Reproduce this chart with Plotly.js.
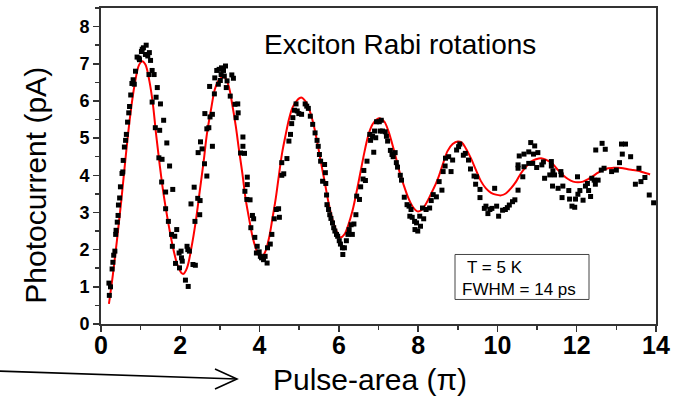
<!DOCTYPE html>
<html>
<head>
<meta charset="utf-8">
<script src="https://cdn.plot.ly/plotly-3.0.1.min.js"></script>
<style>
  html, body { margin: 0; padding: 0; background: #fff; }
  #chart { width: 677px; height: 400px; }
</style>
</head>
<body>
<div id="chart"></div>
<script>
// Measured photocurrent versus pulse area (units of pi)
const pulseArea = [
  0.20,0.21,0.24,0.28,0.30,0.32,0.35,0.37,0.38,0.41,0.43,0.44,0.47,0.49,0.53,0.55,0.56,0.59,0.62,0.64,
  0.67,0.70,0.72,0.75,0.78,0.81,0.84,0.87,0.91,0.96,0.97,1.02,1.04,1.07,1.14,1.12,1.18,1.22,1.25,1.21,
  1.29,1.34,1.42,1.39,1.29,1.50,1.58,1.37,1.48,1.66,1.46,1.54,1.73,1.53,1.63,1.81,1.63,1.70,1.78,1.86,
  1.91,1.80,1.88,1.97,2.02,2.03,2.05,1.98,2.13,2.20,2.17,2.19,2.23,2.32,2.38,2.27,2.35,2.37,2.44,2.49,
  2.50,2.45,2.51,2.55,2.61,2.67,2.62,2.67,2.72,2.75,2.74,
  2.81,2.81,2.86,2.87,2.92,2.98,3.03,3.04,3.09,3.14,3.11,2.96,3.01,3.18,3.16,3.26,3.30,3.34,3.38,3.45,
  3.46,3.41,3.58,3.58,3.52,3.62,3.69,3.69,3.63,3.68,3.76,3.82,3.85,3.78,3.88,3.94,3.92,3.99,4.02,4.05,
  4.10,4.19,4.14,4.20,4.27,4.31,4.37,4.42,4.48,4.50,4.56,4.61,4.56,4.69,4.74,4.78,4.81,4.84,4.88,4.92,
  4.95,4.99,5.06,5.15,5.19,5.23,5.28,5.34,5.40,5.45,5.48,5.51,5.54,5.59,
  5.64,5.66,5.67,5.69,5.70,5.74,5.77,5.80,5.84,5.87,5.90,5.94,5.97,6.01,6.04,6.09,6.10,6.14,6.19,6.23,
  6.26,6.34,6.31,6.38,6.43,6.45,6.52,6.55,6.61,6.67,6.63,6.71,6.88,6.80,6.78,6.85,6.90,6.93,6.95,7.02,
  7.07,7.04,7.10,7.17,7.20,7.23,7.30,7.34,7.37,7.42,7.45,7.48,7.55,7.58,7.65,7.72,7.77,7.82,7.79,7.85,
  7.91,7.96,7.92,7.99,8.06,8.04,8.11,8.14,8.20,8.29,8.33,8.38,
  8.46,8.53,8.60,8.63,8.68,8.69,8.77,8.83,8.87,8.97,9.02,9.05,9.14,9.19,9.27,9.32,9.41,9.47,9.45,9.56,
  9.56,9.67,9.71,9.76,9.81,9.86,9.93,9.98,10.03,10.13,10.20,10.25,10.30,10.38,10.44,10.52,10.64,10.52,10.52,10.55,
  10.67,10.79,10.84,10.94,10.91,11.02,10.67,10.79,10.89,10.99,11.12,11.16,11.19,
  11.36,11.36,11.40,11.32,11.44,11.60,11.61,11.39,11.53,11.65,11.63,11.80,11.82,11.88,11.95,11.97,12.02,12.03,12.08,12.16,
  12.22,12.27,12.30,12.35,12.38,12.44,12.47,12.54,12.48,12.64,12.72,12.62,12.69,12.88,13.00,13.08,13.13,13.23,13.15,13.36,
  13.48,13.57,13.62,13.72,13.83,13.94
];
const photocurrent = [
  1.10,0.77,1.00,1.48,1.66,1.85,1.96,2.41,2.52,2.74,2.92,3.20,3.39,3.69,4.05,4.09,4.40,4.76,4.94,5.10,
  5.43,5.68,5.85,6.16,6.47,6.57,6.45,6.80,7.18,7.15,7.11,7.33,7.39,7.43,7.50,7.25,7.21,7.30,7.09,6.71,
  6.82,6.71,6.36,6.10,5.97,5.92,5.48,5.28,5.21,4.87,4.47,4.43,4.25,3.82,3.55,3.62,3.10,2.76,2.41,2.36,
  2.54,2.09,1.63,1.91,1.96,1.78,1.69,1.51,1.18,1.01,2.09,2.00,1.96,1.60,1.58,3.23,3.68,2.76,3.38,2.94,
  3.32,4.61,4.90,4.71,4.31,3.98,5.66,5.25,5.28,5.57,6.39,
  5.64,4.78,6.19,6.62,6.82,6.85,6.71,6.89,6.82,6.94,6.67,6.45,6.55,6.54,6.36,6.13,6.70,6.61,5.91,5.92,
  5.68,5.55,5.03,4.78,4.60,4.59,3.95,3.75,3.57,3.35,3.34,2.92,2.83,2.59,2.33,2.09,1.91,1.94,1.82,1.78,
  1.73,1.64,1.82,2.05,2.15,2.41,2.83,3.08,3.10,2.87,4.00,4.04,4.34,4.45,4.92,5.10,5.39,5.55,5.75,5.92,
  5.73,5.66,5.64,5.92,5.86,5.80,5.59,5.37,5.14,4.94,4.78,4.56,4.38,3.84,
  4.29,4.07,3.78,3.47,3.21,3.08,2.94,2.84,2.72,2.59,2.50,2.41,2.36,2.24,2.15,2.05,1.87,2.05,2.24,2.41,
  2.54,2.41,2.67,2.69,2.94,3.44,3.35,3.69,3.90,3.86,4.13,4.38,4.62,4.94,5.10,5.05,5.19,5.01,5.44,5.44,
  5.48,5.19,5.19,5.17,5.05,4.92,4.67,4.56,4.50,4.61,4.34,4.22,4.00,3.87,3.41,3.21,3.17,3.08,2.90,2.87,
  2.76,2.72,2.54,2.50,2.63,2.90,3.12,2.83,3.08,3.12,3.32,3.48,
  3.42,3.83,3.60,4.10,4.25,4.46,4.50,4.10,4.41,4.68,4.77,4.84,4.54,4.59,4.41,4.17,3.98,3.96,3.76,3.62,
  3.40,3.11,3.17,2.97,3.08,3.11,3.65,3.17,2.90,3.06,3.08,3.13,3.20,3.29,3.34,3.60,3.96,4.19,4.28,4.52,
  4.57,4.63,4.88,4.79,4.57,4.61,4.23,4.32,4.32,4.21,4.28,4.36,3.92,
  4.37,4.25,4.12,4.01,4.01,4.10,4.01,3.71,3.65,3.71,3.40,3.59,3.36,3.17,3.14,3.36,3.96,3.49,3.59,3.33,
  3.71,3.78,3.59,3.43,3.92,3.87,3.76,3.87,4.68,4.86,4.70,4.14,4.19,4.10,4.14,4.34,4.84,4.84,4.57,4.50,
  3.76,4.19,3.83,3.94,3.47,3.26
];

// Damped Rabi fit, sampled along the drawn curve
const fitPulseArea = [
  0.20,0.30,0.40,0.51,0.62,0.74,0.85,0.96,1.04,1.12,1.22,1.31,1.39,1.48,1.58,1.69,1.80,1.92,2.03,2.08,
  2.17,2.28,2.39,2.49,2.59,2.67,2.79,2.87,2.96,3.06,3.14,3.23,3.31,3.40,3.48,3.57,3.65,3.74,3.82,3.90,
  3.98,4.07,4.15,4.24,4.32,4.41,4.49,4.57,4.66,4.74,4.83,4.94,5.05,5.15,5.25,5.35,5.45,5.55,5.64,5.74,
  5.84,5.94,6.04,6.14,6.24,6.34,6.45,6.55,6.65,6.75,6.85,6.95,7.05,7.15,7.25,7.35,7.45,7.55,7.66,7.76,
  7.86,7.98,8.08,8.18,8.28,8.38,8.45,8.53,8.63,8.74,8.87,9.00,9.10,9.20,9.33,9.46,9.58,9.71,9.84,9.96,
  10.09,10.21,10.34,10.47,10.59,10.72,10.85,10.97,11.10,11.22,11.40,11.53,11.65,11.78,11.91,12.03,12.16,12.28,12.41,12.54,
  12.66,12.79,12.92,13.04,13.17,13.29,13.42,13.55,13.67,13.80,13.85
];
const fitCurrent = [
  0.54,1.33,2.23,3.30,4.47,5.64,6.45,6.97,7.07,6.98,6.54,5.91,5.10,4.29,3.48,2.76,2.14,1.62,1.37,1.35,
  1.51,2.05,2.76,3.57,4.38,5.10,5.86,6.31,6.54,6.64,6.61,6.36,5.91,5.32,4.69,4.02,3.35,2.81,2.36,2.05,
  1.85,1.82,1.96,2.32,2.81,3.39,4.02,4.61,5.10,5.50,5.82,6.01,6.09,6.00,5.78,5.42,4.92,4.34,3.84,3.26,
  2.81,2.50,2.33,2.41,2.67,3.03,3.57,4.11,4.65,5.10,5.37,5.50,5.53,5.44,5.19,4.83,4.43,4.02,3.66,3.37,
  3.16,3.03,3.06,3.20,3.40,3.62,3.78,4.00,4.32,4.65,4.84,4.91,4.88,4.73,4.46,4.14,3.85,3.65,3.53,3.48,
  3.46,3.51,3.65,3.83,4.05,4.23,4.37,4.43,4.46,4.42,4.30,4.14,4.01,3.90,3.83,3.81,3.83,3.89,3.98,4.07,
  4.14,4.19,4.20,4.20,4.19,4.16,4.14,4.12,4.08,4.04,4.02
];

const FONT = 'Arial, "Liberation Sans", sans-serif';
const AXIS_COLOR = '#333333';

const traces = [
  {
    x: fitPulseArea, y: fitCurrent, type: 'scatter', mode: 'lines',
    line: { color: '#ff0000', width: 2, shape: 'spline', smoothing: 1 },
    hoverinfo: 'skip', showlegend: false
  },
  {
    x: pulseArea, y: photocurrent, type: 'scatter', mode: 'markers',
    marker: { symbol: 'square', size: 5, color: '#000000' },
    showlegend: false
  }
];

const layout = {
  width: 677, height: 400,
  margin: { l: 101, r: 21, t: 8, b: 76 },
  paper_bgcolor: '#ffffff', plot_bgcolor: '#ffffff',
  font: { family: FONT, color: '#000000' },
  showlegend: false,
  xaxis: {
    range: [0, 14], tick0: 0, dtick: 2,
    ticks: 'outside', ticklen: 6, tickwidth: 1.5, tickcolor: AXIS_COLOR,
    ticklabelstandoff: -8,
    showline: true, linecolor: AXIS_COLOR, linewidth: 2, mirror: true,
    showgrid: false, zeroline: false,
    tickfont: { family: FONT, size: 25, weight: 'bold', color: '#000000' },
    minor: { dtick: 1, ticks: 'outside', ticklen: 4, tickwidth: 1.5, tickcolor: AXIS_COLOR, showgrid: false }
  },
  yaxis: {
    range: [0, 8.5], tick0: 0, dtick: 1,
    ticks: 'outside', ticklen: 6, tickwidth: 1.5, tickcolor: AXIS_COLOR,
    showline: true, linecolor: AXIS_COLOR, linewidth: 2, mirror: true,
    showgrid: false, zeroline: false,
    tickfont: { family: FONT, size: 18, weight: 'bold', color: '#000000' },
    minor: { dtick: 0.5, ticks: 'outside', ticklen: 4, tickwidth: 1.5, tickcolor: AXIS_COLOR, showgrid: false }
  },
  annotations: [
    { text: 'Exciton Rabi rotations', xref: 'x', yref: 'y', x: 7.54, y: 7.52,
      xanchor: 'center', yanchor: 'middle', showarrow: false,
      font: { family: FONT, size: 28, color: '#000000' } },
    { text: 'T = 5 K', xref: 'x', yref: 'y', x: 9.18, y: 1.52,
      xanchor: 'left', yanchor: 'middle', showarrow: false,
      font: { family: FONT, size: 17, color: '#000000' } },
    { text: 'FWHM = 14 ps', xref: 'x', yref: 'y', x: 9.06, y: 0.93,
      xanchor: 'left', yanchor: 'middle', showarrow: false,
      font: { family: FONT, size: 17, color: '#000000' } },
    { text: 'Pulse-area (π)', xref: 'paper', yref: 'paper', x: 0.485, y: -0.175,
      xanchor: 'center', yanchor: 'middle', showarrow: false,
      font: { family: FONT, size: 30, color: '#000000' } },
    { text: 'Photocurrent (pA)', xref: 'paper', yref: 'paper', x: -0.117, y: 0.438,
      xanchor: 'center', yanchor: 'middle', showarrow: false, textangle: -90,
      font: { family: FONT, size: 30, color: '#000000' } }
  ],
  shapes: [
    // box holding the measurement conditions
    { type: 'rect', xref: 'x', yref: 'y', x0: 8.93, x1: 12.31, y0: 0.66, y1: 1.87,
      line: { color: '#444444', width: 1 }, fillcolor: 'rgba(0,0,0,0)' },
    // pointer arrow under the axis
    { type: 'line', xref: 'paper', yref: 'paper', x0: -0.182, y0: -0.149, x1: 0.245, y1: -0.174,
      line: { color: '#000000', width: 1.6 } },
    { type: 'path', xref: 'paper', yref: 'paper',
      path: 'M0.2054,-0.1424 L0.245,-0.174 L0.2054,-0.2057',
      line: { color: '#000000', width: 1.6 } }
  ]
};

Plotly.newPlot('chart', traces, layout, { displayModeBar: false, staticPlot: true });
</script>
</body>
</html>
